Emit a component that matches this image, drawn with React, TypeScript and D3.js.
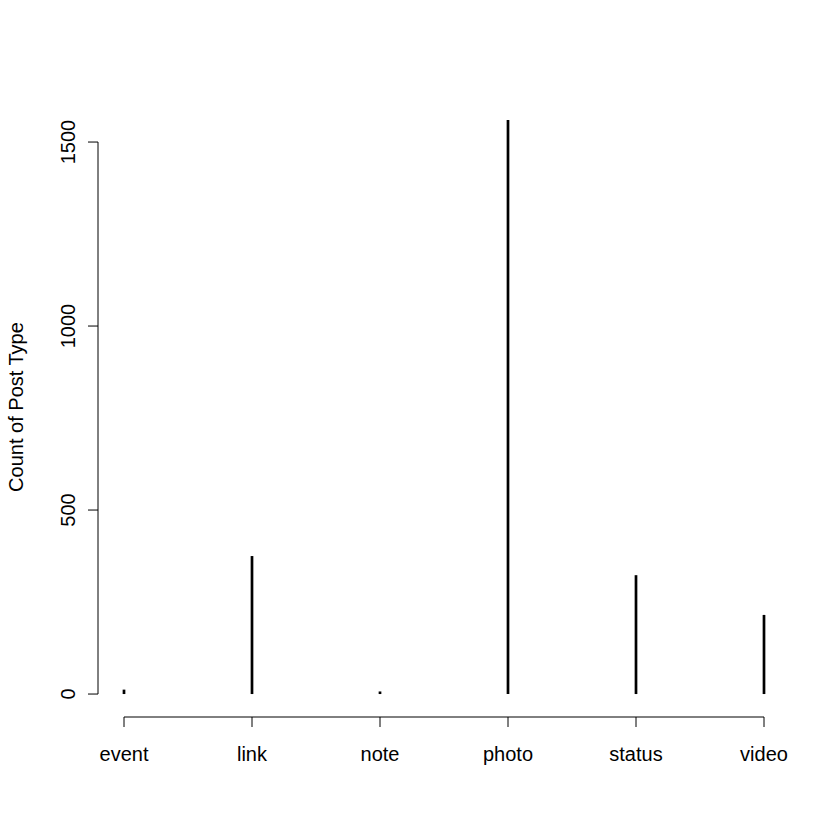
import React from "react";
import * as d3 from "d3";

const categories = ["event", "link", "note", "photo", "status", "video"];
const counts = [12, 375, 7, 1560, 323, 215];
const yTicks = [0, 500, 1000, 1500];

export default function App() {
  const W = 840, H = 840;
  const x = d3.scaleLinear().domain([0.8, 6.2]).range([98.4, 789.6]);
  const ymax = d3.max(counts) as number;
  const y = d3.scaleLinear().domain([-0.04 * ymax, ymax * 1.04]).range([717, 97]);
  const font = "Liberation Sans, Arial, sans-serif";
  const fs = 20;
  const yAxisX = 98;
  const xAxisY = 717;
  const tick = 10;
  return (
    <svg width={W} height={H} style={{ position: "absolute", left: 0, top: 0, background: "#fff" }} fontFamily={font}>
      {counts.map((c, i) => (
        <line key={i} x1={x(i + 1)} x2={x(i + 1)} y1={y(0)} y2={y(c)} stroke="#000" strokeWidth={2.7} />
      ))}
      <line x1={yAxisX} x2={yAxisX} y1={y(yTicks[0])} y2={y(yTicks[yTicks.length - 1])} stroke="#000" />
      {yTicks.map((t) => (
        <g key={t}>
          <line x1={yAxisX - tick} x2={yAxisX} y1={y(t)} y2={y(t)} stroke="#000" />
          <text transform={`translate(${yAxisX - 23},${y(t)}) rotate(-90)`} textAnchor="middle" fontSize={fs}>{t}</text>
        </g>
      ))}
      <line x1={x(1)} x2={x(categories.length)} y1={xAxisY} y2={xAxisY} stroke="#000" />
      {categories.map((c, i) => (
        <g key={c}>
          <line x1={x(i + 1)} x2={x(i + 1)} y1={xAxisY} y2={xAxisY + tick} stroke="#000" />
          <text x={x(i + 1)} y={xAxisY + 44} textAnchor="middle" fontSize={fs}>{c}</text>
        </g>
      ))}
      <text transform={`translate(23,${(97 + 717) / 2}) rotate(-90)`} textAnchor="middle" fontSize={fs}>Count of Post Type</text>
    </svg>
  );
}
